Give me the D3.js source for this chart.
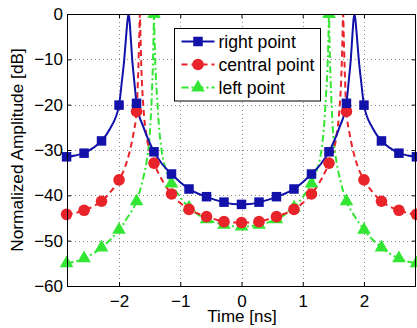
<!DOCTYPE html>
<html>
<head>
<meta charset="utf-8">
<script src="https://cdn.jsdelivr.net/npm/d3@7"></script>
<style>
  body { margin: 0; background: #fff; }
  text { font-family: "Liberation Sans", Arial, sans-serif; }
</style>
</head>
<body>
<script>
// chart size
var width = 417
var height = 328

// sampled points (markers)
var markerTimes = [-2.857, -2.571, -2.286, -2.0, -1.714, -1.429, -1.143, -0.857, -0.571, -0.286, 0,
                   0.286, 0.571, 0.857, 1.143, 1.429, 1.714, 2.0, 2.286, 2.571, 2.857]
var rightPoint   = [-31.5, -30.7, -28.0, -20.1, -19.7, -30.4, -35.3, -38.6, -40.3, -41.5, -42.0,
                    -41.5, -40.3, -38.6, -35.3, -30.4, -19.7, -20.1, -28.0, -30.7, -31.5]
var centralPoint = [-44.2, -43.3, -41.3, -36.6, -21.5, -32.9, -39.7, -43.1, -44.7, -45.8, -46.0,
                    -45.8, -44.7, -43.1, -39.7, -32.9, -21.5, -36.6, -41.3, -43.3, -44.2]
var leftPoint    = [-55.0, -53.9, -51.5, -47.6, -41.3, 0, -37.4, -42.7, -45.3, -46.5, -46.9,
                    -46.5, -45.3, -42.7, -37.4, 0, -41.3, -47.6, -51.5, -53.9, -55.0]

// continuous curves
var rightLineT  = [-2.857, -2.714, -2.571, -2.429, -2.286, -2.143, -2.0, -1.955, -1.915, -1.885, -1.862, -1.845,
                   -1.828, -1.81, -1.785, -1.75, -1.714, -1.6, -1.5, -1.429, -1.29, -1.143, -1.0, -0.857,
                   -0.714, -0.571, -0.429, -0.286, -0.143, 0, 0.143, 0.286, 0.429, 0.571, 0.714, 0.857,
                   1.0, 1.143, 1.29, 1.429, 1.5, 1.6, 1.714, 1.75, 1.785, 1.81, 1.828, 1.845,
                   1.862, 1.885, 1.915, 1.955, 2.0, 2.143, 2.286, 2.429, 2.571, 2.714, 2.857]
var rightLineDb = [-31.5, -31.2, -30.7, -29.6, -28.0, -25.2, -20.1, -15.0, -10.0, -5.0, -1.5, 0,
                   -1.5, -5.0, -10.0, -15.0, -19.7, -25.0, -28.4, -30.4, -33.2, -35.3, -37.1, -38.6,
                   -39.6, -40.3, -41.0, -41.5, -41.9, -42.0, -41.9, -41.5, -41.0, -40.3, -39.6, -38.6,
                   -37.1, -35.3, -33.2, -30.4, -28.4, -25.0, -19.7, -15.0, -10.0, -5.0, -1.5, 0,
                   -1.5, -5.0, -10.0, -15.0, -20.1, -25.2, -28.0, -29.6, -30.7, -31.2, -31.5]

var centralLineT  = [-2.857, -2.714, -2.571, -2.429, -2.286, -2.143, -2.0, -1.9, -1.82, -1.76, -1.714, -1.685,
                     -1.67, -1.66, -1.65, -1.635, -1.6, -1.55, -1.5, -1.429, -1.29, -1.143, -1.0, -0.857,
                     -0.714, -0.571, -0.429, -0.286, -0.143, 0, 0.143, 0.286, 0.429, 0.571, 0.714, 0.857,
                     1.0, 1.143, 1.29, 1.429, 1.5, 1.55, 1.6, 1.635, 1.65, 1.66, 1.67, 1.685,
                     1.714, 1.76, 1.82, 1.9, 2.0, 2.143, 2.286, 2.429, 2.571, 2.714, 2.857]
var centralLineDb = [-44.2, -43.9, -43.3, -42.5, -41.3, -39.3, -36.6, -33.7, -30.0, -26.0, -21.5, -12.0,
                     -5.0, 0, -5.0, -12.0, -21.0, -27.0, -30.3, -32.9, -36.8, -39.7, -41.7, -43.1,
                     -44.0, -44.7, -45.3, -45.8, -46.0, -46.0, -46.0, -45.8, -45.3, -44.7, -44.0, -43.1,
                     -41.7, -39.7, -36.8, -32.9, -30.3, -27.0, -21.0, -12.0, -5.0, 0, -5.0, -12.0,
                     -21.5, -26.0, -30.0, -33.7, -36.6, -39.3, -41.3, -42.5, -43.3, -43.9, -44.2]

var leftLineT  = [-2.857, -2.714, -2.571, -2.429, -2.286, -2.143, -2.0, -1.857, -1.714, -1.62, -1.55, -1.5,
                  -1.465, -1.445, -1.435, -1.429, -1.422, -1.41, -1.38, -1.34, -1.3, -1.23, -1.143, -1.0,
                  -0.857, -0.714, -0.571, -0.429, -0.286, -0.143, 0, 0.143, 0.286, 0.429, 0.571, 0.714,
                  0.857, 1.0, 1.143, 1.23, 1.3, 1.34, 1.38, 1.41, 1.422, 1.429, 1.435, 1.445,
                  1.465, 1.5, 1.55, 1.62, 1.714, 1.857, 2.0, 2.143, 2.286, 2.429, 2.571, 2.714, 2.857]
var leftLineDb = [-55.0, -54.6, -53.9, -52.9, -51.5, -49.8, -47.6, -44.8, -41.3, -37.0, -32.5, -27.0,
                  -18.0, -10.0, -4.0, 0, -4.0, -10.0, -18.0, -26.0, -30.5, -34.5, -37.4, -40.4,
                  -42.7, -44.2, -45.3, -46.0, -46.5, -46.8, -46.9, -46.8, -46.5, -46.0, -45.3, -44.2,
                  -42.7, -40.4, -37.4, -34.5, -30.5, -26.0, -18.0, -10.0, -4.0, 0, -4.0, -10.0,
                  -18.0, -27.0, -32.5, -37.0, -41.3, -44.8, -47.6, -49.8, -51.5, -52.9, -53.9, -54.6, -55.0]

var xTicks = [-2, -1, 0, 1, 2]
var yTicks = [0, -10, -20, -30, -40, -50, -60]
var seriesNames = ["right point", "central point", "left point"]

var font = "'Liberation Sans', Arial, sans-serif"

var svg = d3.select("body")
  .append("svg")
    .attr("width", width)
    .attr("height", height)

// plot area
var plotL = 67, plotR = 416, plotT = 14, plotB = 286

var x = d3.scaleLinear().domain([-2.85, 2.85]).range([plotL, plotR])
var y = d3.scaleLinear().domain([-60, 0]).range([plotB, plotT])

var defs = svg.append("defs")
defs.append("clipPath").attr("id", "plotclip")
  .append("rect").attr("x", plotL).attr("y", plotT).attr("width", plotR - plotL).attr("height", plotB - plotT)
defs.append("clipPath").attr("id", "markclip")
  .append("rect").attr("x", 0).attr("y", plotT).attr("width", width).attr("height", plotB - plotT)

// dotted grid
var grid = svg.append("g")
  .attr("stroke", "#8a8a8a")
  .attr("stroke-width", 1)
  .attr("stroke-dasharray", "1,3")
grid.selectAll(".gx").data(xTicks).enter().append("line")
  .attr("x1", function(d){ return Math.round(x(d)) + 0.5 })
  .attr("x2", function(d){ return Math.round(x(d)) + 0.5 })
  .attr("y1", plotT).attr("y2", plotB)
grid.selectAll(".gy").data(yTicks.slice(1, -1)).enter().append("line")
  .attr("y1", function(d){ return Math.round(y(d)) + 0.5 })
  .attr("y2", function(d){ return Math.round(y(d)) + 0.5 })
  .attr("x1", plotL).attr("x2", plotR)

// series styles
var series = [
  { t: rightLineT, v: rightLineDb, m: rightPoint, color: "#1212aa", dash: null, shape: "square" },
  { t: centralLineT, v: centralLineDb, m: centralPoint, color: "#e8232a", dash: "6,4", shape: "circle" },
  { t: leftLineT, v: leftLineDb, m: leftPoint, color: "#33e633", dash: "7,3,2,3", shape: "triangle" }
]

var line = d3.line()
  .x(function(d){ return x(d[0]) })
  .y(function(d){ return y(d[1]) })
  .curve(d3.curveMonotoneX)

var lines = svg.append("g").attr("clip-path", "url(#plotclip)")
var marks = svg.append("g").attr("clip-path", "url(#markclip)")

function drawMarker(g, shape, cx, cy, color) {
  if (shape == "square") {
    g.append("rect").attr("x", cx - 4.75).attr("y", cy - 4.75).attr("width", 9.5).attr("height", 9.5)
      .attr("fill", color)
  } else if (shape == "circle") {
    g.append("circle").attr("cx", cx).attr("cy", cy).attr("r", 5.8).attr("fill", color)
  } else {
    g.append("path").attr("d", d3.symbol(d3.symbolTriangle, 80)())
      .attr("transform", "translate(" + cx + "," + cy + ")")
      .attr("fill", color)
  }
}

// draw in reverse so blue sits on top
series.slice().reverse().forEach(function(s) {
  var pts = s.t.map(function(t, i){ return [t, s.v[i]] })
  lines.append("path")
    .attr("d", line(pts))
    .attr("fill", "none")
    .attr("stroke", s.color)
    .attr("stroke-width", 2)
    .attr("stroke-dasharray", s.dash)
})
series.slice().reverse().forEach(function(s) {
  markerTimes.forEach(function(t, i) {
    drawMarker(marks, s.shape, x(t), y(s.m[i]), s.color)
  })
})

// axes with inward ticks
var fmt = d3.format("d")
var xAxis = svg.append("g")
  .attr("transform", "translate(0," + plotB + ")")
  .call(d3.axisBottom(x).tickValues(xTicks).tickFormat(fmt).tickSize(-4).tickPadding(9))
var yAxis = svg.append("g")
  .attr("transform", "translate(" + plotL + ",0)")
  .call(d3.axisLeft(y).tickValues(yTicks).tickFormat(fmt).tickSize(-4).tickPadding(4))
var xTop = svg.append("g")
  .attr("transform", "translate(0," + plotT + ")")
  .call(d3.axisTop(x).tickValues(xTicks).tickSize(-4).tickFormat(""))
var yRight = svg.append("g")
  .attr("transform", "translate(" + plotR + ",0)")
  .call(d3.axisRight(y).tickValues(yTicks).tickSize(-4).tickFormat(""))

;[xAxis, yAxis, xTop, yRight].forEach(function(a) {
  a.select(".domain").remove()
  a.attr("font-size", 17).attr("font-family", font)
  a.selectAll("text").attr("fill", "#000")
  a.selectAll("line").attr("stroke", "#000")
})

// box
svg.append("rect")
  .attr("x", plotL + 0.5).attr("y", plotT + 0.5)
  .attr("width", plotR - plotL - 1).attr("height", plotB - plotT)
  .attr("fill", "none").attr("stroke", "#000").attr("stroke-width", 1)

// axis labels
svg.append("text")
  .attr("x", (plotL + plotR) / 2 + 0.5).attr("y", 322)
  .attr("text-anchor", "middle")
  .attr("font-size", 17)
  .text("Time [ns]")
svg.append("text")
  .attr("transform", "translate(17," + (plotT + plotB) / 2 + ") rotate(-90)")
  .attr("text-anchor", "middle")
  .attr("dy", "0.35em")
  .attr("font-size", 17.3)
  .text("Normalized Amplitude [dB]")

// legend
var legend = svg.append("g")
legend.append("rect")
  .attr("x", 174.5).attr("y", 28.5).attr("width", 146).attr("height", 72.5)
  .attr("fill", "#fff").attr("stroke", "#000").attr("stroke-width", 1)
series.forEach(function(s, i) {
  var ly = 41.5 + i * 23
  legend.append("line")
    .attr("x1", 181.5).attr("x2", 214.5).attr("y1", ly).attr("y2", ly)
    .attr("stroke", s.color).attr("stroke-width", 2)
    .attr("stroke-dasharray", s.dash)
  drawMarker(legend, s.shape, 198, ly, s.color)
  legend.append("text")
    .attr("x", 218.5).attr("y", ly).attr("dy", "0.35em")
    .attr("font-size", 17.6)
    .text(seriesNames[i])
})
</script>
</body>
</html>
